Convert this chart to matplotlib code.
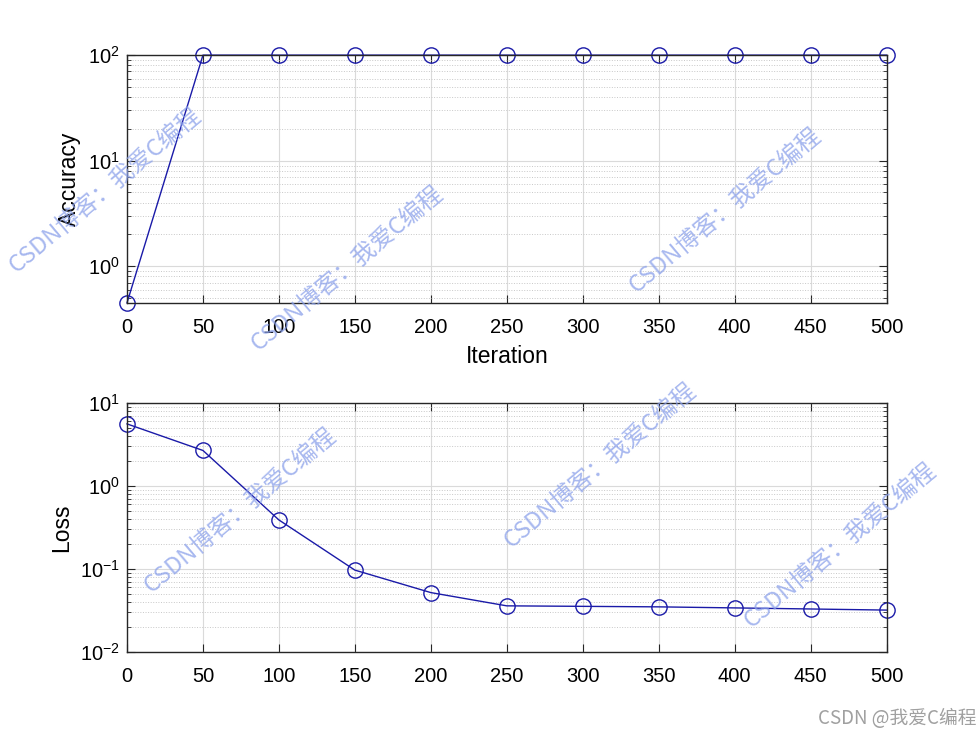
import numpy as np
import matplotlib.pyplot as plt
from matplotlib.ticker import LogLocator, NullFormatter

plt.rcParams['font.family'] = ['Liberation Sans', 'Noto Sans CJK SC', 'DejaVu Sans']
plt.rcParams['mathtext.fontset'] = 'custom'
plt.rcParams['mathtext.rm'] = 'Liberation Sans'
plt.rcParams['axes.unicode_minus'] = False

iterations = [0, 50, 100, 150, 200, 250, 300, 350, 400, 450, 500]
accuracy = [0.45, 100, 100, 100, 100, 100, 100, 100, 100, 100, 100]
loss = [5.6, 2.68, 0.39, 0.097, 0.052, 0.036, 0.0355, 0.035, 0.034, 0.033, 0.032]
xticks = list(range(0, 501, 50))

line_col = '#1a1aa8'

fig = plt.figure(figsize=(9.8, 7.35), dpi=100)
ax1 = fig.add_axes([0.1296, 0.588, 0.775, 0.337])
ax2 = fig.add_axes([0.1296, 0.1129, 0.775, 0.3388])


def style(ax):
    ax.set_yscale('log')
    ax.set_xlim(0, 500)
    ax.set_xticks(xticks)
    ax.yaxis.set_minor_locator(LogLocator(base=10, subs=np.arange(2, 10), numticks=20))
    ax.yaxis.set_minor_formatter(NullFormatter())
    ax.grid(True, which='major', color='#dadada', linewidth=0.8, linestyle='-')
    ax.grid(True, which='minor', axis='y', color='#c8c8c8', linewidth=0.7, linestyle=':')
    ax.tick_params(which='both', direction='in', top=True, right=True, labelsize=14.5, color='#262626')
    ax.tick_params(which='major', length=6)
    ax.tick_params(which='minor', length=3)
    ax.tick_params(axis='x', pad=11)
    ax.tick_params(axis='y', pad=5)
    for s in ax.spines.values():
        s.set_color('#262626')
        s.set_linewidth(1.0)
    ax.set_axisbelow(True)


ax1.plot(iterations, accuracy, '-o', color=line_col, linewidth=1.0,
         markersize=11, markerfacecolor='none', markeredgewidth=1.0, clip_on=False)
style(ax1)
ax1.set_ylim(min(accuracy), 100)
ax1.set_xlabel('Iteration', fontsize=16.5, labelpad=6)
ax1.set_ylabel('Accuracy', fontsize=16.5, labelpad=5)

ax2.plot(iterations, loss, '-o', color=line_col, linewidth=1.0,
         markersize=11, markerfacecolor='none', markeredgewidth=1.0, clip_on=False)
style(ax2)
ax2.set_ylim(0.01, 10)
ax2.set_ylabel('Loss', fontsize=16.5, labelpad=5)

# watermarks
wm = 'CSDN博客：我爱C编程'
for x, y in [(105, 190), (347, 268), (725, 210), (240, 510), (600, 465), (840, 545)]:
    fig.text(x / 980, 1 - y / 735, wm, fontsize=17, color='#8aa0ea', alpha=0.75,
             rotation=40, ha='center', va='center', family=['Noto Sans CJK SC', 'DejaVu Sans'])

fig.text(0.996, 1 - 718 / 735, 'CSDN @我爱C编程', fontsize=13.5, color='#a0a0a0',
         ha='right', va='center', family=['Noto Sans CJK SC', 'DejaVu Sans'])

plt.savefig('out.png', dpi=100)
